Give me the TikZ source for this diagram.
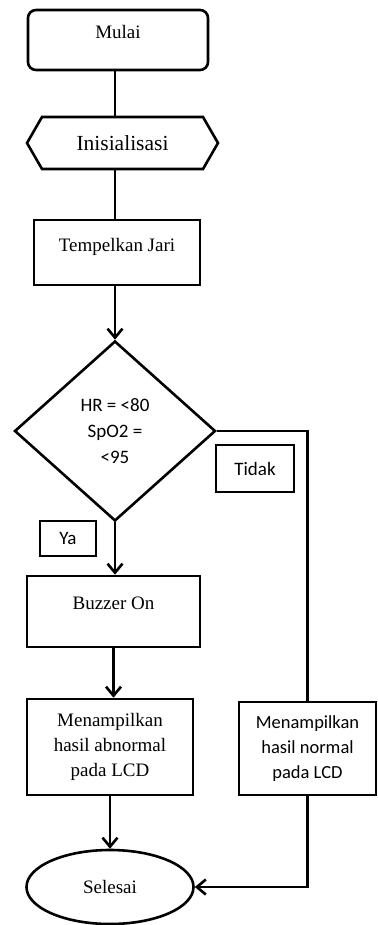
\documentclass[tikz,border=0pt]{standalone}
\usepackage{fontspec}
\setmainfont{Liberation Serif}
\newfontfamily\calibri{Carlito}
\usetikzlibrary{shapes.geometric}
\usetikzlibrary{shapes.symbols}
\usetikzlibrary{arrows.meta}

\tikzset{
    garis/.style = {line width=2.6pt},
    panah/.style = {garis, -{Straight Barb[length=9pt,width=15pt]}},
    kotak/.style = {rectangle, draw, garis, inner sep=0pt, align=center,
                    font=\fontsize{19}{25}\selectfont},
    atas/.style  = {text depth=16pt},
    sans/.style  = {font=\calibri\fontsize{19}{26}\selectfont}
}

\begin{document}
\begin{tikzpicture}[x=1pt,y=-1pt]
    \useasboundingbox (0,0) rectangle (377,925);

        \node[kotak, atas, rounded corners=8pt,
            minimum width=180pt,
            minimum height=60pt] (mulai) at (118,40) {Mulai};

        \node[kotak, signal, signal to=west and east,
            signal pointer angle=120,
            font=\fontsize{21.5}{25}\selectfont,
            minimum width=191pt,
            minimum height=52pt] (init) at (122.5,143) {Inisialisasi};

        \node[kotak, atas, minimum width=166pt, minimum height=65pt] (jari) at (117,252.5) {Tempelkan Jari};

        \node[kotak, sans, diamond,
            minimum width=201pt,
            minimum height=180pt] (cek) at (115,431) {HR = <80\\SpO2 =\\<95};

        \node[kotak, sans, minimum width=56pt, minimum height=35pt] (ya) at (68,538.5) {Ya};
        \node[kotak, sans, minimum width=78pt, minimum height=47pt] (tdk) at (255,468.5) {Tidak};

        \node[kotak, atas, minimum width=173pt, minimum height=71pt] (buzz) at (113.5,611.5) {Buzzer On};

        \node[kotak, minimum width=166pt, minimum height=96pt] (abn) at (110,747) {Menampilkan\\hasil abnormal\\pada LCD};
        \node[kotak, sans, font=\calibri\fontsize{18.5}{25}\selectfont,
            minimum width=137pt, minimum height=93pt] (nor) at (307.5,748.5) {Menampilkan\\hasil normal\\pada LCD};

        \node[kotak, ellipse,
            minimum width=167pt,
            minimum height=74pt] (sel) at (110,887) {Selesai};

        % alur utama
        \draw[garis] (mulai.south -| cek.north) -- (init.north -| cek.north);
        \draw[garis] (init.south -| cek.north) -- (jari.north -| cek.north);
        \draw[panah] (jari.south -| cek.north) -- (cek.north);
        \draw[panah] (cek.south) -- (cek.south |- buzz.north);
        \draw[panah] (buzz.south) -- (buzz.south |- abn.north);
        \draw[panah] (abn.south) -- (abn.south |- sel.north);

        % cabang tidak
        \draw[garis] (cek.east) -| (nor.north);
        \draw[panah] (nor.south) |- (sel.east);
\end{tikzpicture}
\end{document}
